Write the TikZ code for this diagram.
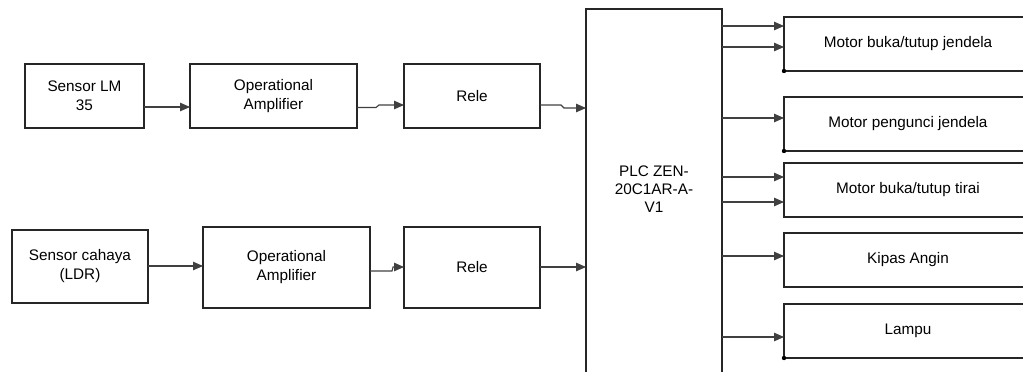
\documentclass[tikz,border=0pt]{standalone}
\usepackage{fontspec}
\setmainfont{Liberation Sans}
\usetikzlibrary{arrows.meta}
\begin{document}
\begin{tikzpicture}[x=1pt,y=-1pt,
  box/.style={draw=black!85, line width=1.1pt, inner sep=0pt, outer sep=0pt, anchor=north west, align=center,
    font=\fontsize{15.3pt}{19pt}\selectfont},
  conn/.style={draw=black!75, line width=1.1pt, -{Triangle[length=10pt,width=8.5pt]}},
  dot/.style={fill=black}
]
\useasboundingbox (0,0) rectangle (1023,372);
\clip (0,0) rectangle (1023,372);
% left column
\node[box, minimum width=119pt, minimum height=64pt] (s1) at (25,64) {Sensor LM\\35};
\node[box, minimum width=167pt, minimum height=64pt] (o1) at (190,64) {Operational\\Amplifier};
\node[box, minimum width=136pt, minimum height=64pt] (r1) at (404,64) {Rele};
\node[box, minimum width=136pt, minimum height=73pt] (s2) at (12,230) {Sensor cahaya\\(LDR)};
\node[box, minimum width=167pt, minimum height=81pt] (o2) at (203,227) {Operational\\Amplifier};
\node[box, minimum width=136pt, minimum height=81pt] (r2) at (404,227) {Rele};
% PLC
\node[box, minimum width=136pt, minimum height=400pt,
  label={[name=plctext, yshift=20pt, align=center, font=\fontsize{15.3pt}{18pt}\selectfont]center:PLC ZEN-\\20C1AR-A-\\V1}] (plc) at (586,9) {};
% outputs
\node[box, minimum width=248pt, minimum height=54pt] (m1) at (784,17) {Motor buka/tutup jendela};
\node[box, minimum width=248pt, minimum height=54pt] (m2) at (784,97) {Motor pengunci jendela};
\node[box, minimum width=248pt, minimum height=54pt] (m3) at (784,163) {Motor buka/tutup tirai};
\node[box, minimum width=248pt, minimum height=54pt] (m4) at (784,233) {Kipas Angin};
\node[box, minimum width=248pt, minimum height=54pt] (m5) at (784,304) {Lampu};
% top row connectors
\draw[conn] (s1.east |- 0,107) -- (o1.west |- 0,107);
\draw[conn] (o1.east |- 0,107.5) -- (376,107.5) -- (379,105) -- (r1.west |- 0,105);
\draw[conn] (r1.east |- 0,105) -- (561,105) -- (564,108) -- (plc.west |- 0,108);
% bottom row connectors
\draw[conn] (s2.east |- 0,266) -- (o2.west |- 0,266);
\draw[conn] (o2.east |- 0,271) -- (392,271) -- (393,267) -- (r2.west |- 0,267);
\draw[conn] (r2.east |- 0,267) -- (plc.west |- 0,267);
% outputs connectors
\draw[conn] (plc.east |- 0,26) -- (m1.west |- 0,26);
\draw[conn] (plc.east |- 0,47) -- (m1.west |- 0,47);
\draw[conn] (plc.east |- 0,118) -- (m2.west |- 0,118);
\draw[conn] (plc.east |- 0,177) -- (m3.west |- 0,177);
\draw[conn] (plc.east |- 0,202) -- (m3.west |- 0,202);
\draw[conn] (plc.east |- 0,256) -- (m4.west |- 0,256);
\draw[conn] (plc.east |- 0,337) -- (m5.west |- 0,337);
% junction dots
\fill[dot] (m1.south west) circle (2.2);
\fill[dot] (m2.south west) circle (2.2);
\fill[dot] (m5.south west) circle (2.2);
\end{tikzpicture}
\end{document}
